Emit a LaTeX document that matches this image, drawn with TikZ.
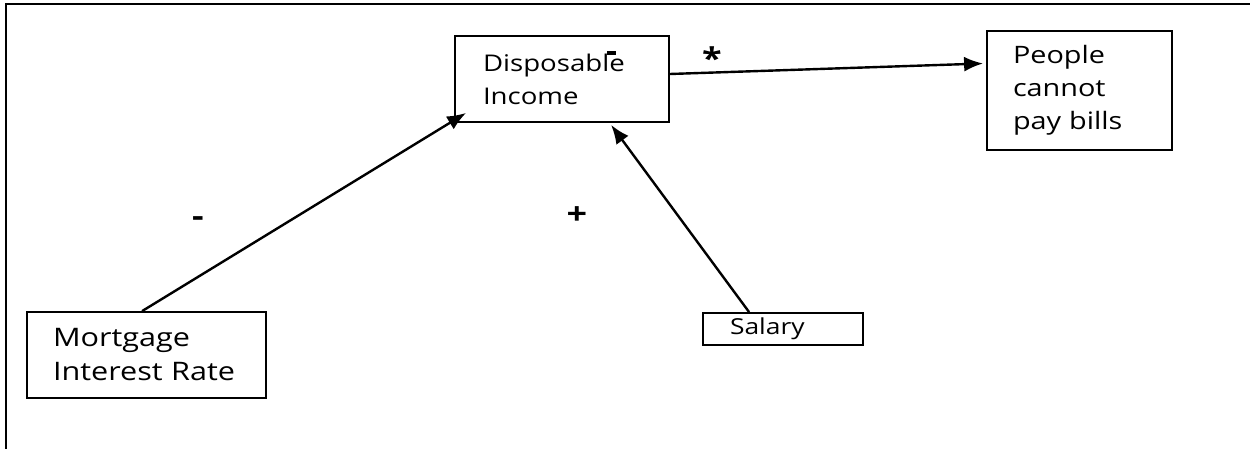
\documentclass[tikz,border=0pt]{standalone}
\usepackage{fontspec}
\setmainfont[FakeStretch=1.2]{Open Sans}
\usetikzlibrary{arrows.meta,calc}
\begin{document}
\begin{tikzpicture}[x=1pt,y=-1pt,
 box/.style={draw,line width=1.8pt,align=left,inner ysep=0pt,font=\fontsize{23}{33}\selectfont,anchor=center},
 conn/.style={line width=2.4pt,-{Latex[length=19pt,width=15pt]}},
 sign/.style={font=\fontsize{30}{30}\selectfont\bfseries}]
\useasboundingbox (0,0) rectangle (1250,449);
\draw[line width=2pt] (6,449) -- (6,4) -- (1250,4);
\node[box, minimum width=214pt, minimum height=86pt, text width=158pt, inner xsep=28pt] (disp) at (562,79) {Disposable\\Income};
\node[box, minimum width=185pt, minimum height=119pt, text width=133pt, inner xsep=26pt, font=\fontsize{24}{33}\selectfont] (ppl) at (1079.5,90.5) {People\\cannot\\pay bills};
\node[box, minimum width=239pt, minimum height=86pt, text width=187pt, inner xsep=26pt, font=\fontsize{25.5}{34}\selectfont] (mort) at (146.5,355) {Mortgage\\Interest Rate};
\node[box, minimum width=160pt, minimum height=32pt, text width=106pt, inner xsep=27pt, font=\fontsize{22}{26}\selectfont] (sal) at (783,329) {Salary};
\fill (607,51) rectangle (616,55);
\draw[conn] ($(mort.north west)+(116,0)$) -- ($(disp.south west)+(12,-10)$);
\draw[conn] ($(sal.north west)+(47,0)$) -- ($(disp.south west)+(157,2)$);
\draw[conn] ($(disp.east)+(0,-5)$) -- ($(ppl.west)+(-3,-27)$);
\node[sign] (minus) at (198,222) {-};
\node[sign] (plus) at (577,216) {+};
\node[sign] (star) at (712,58) {*};
\end{tikzpicture}
\end{document}
